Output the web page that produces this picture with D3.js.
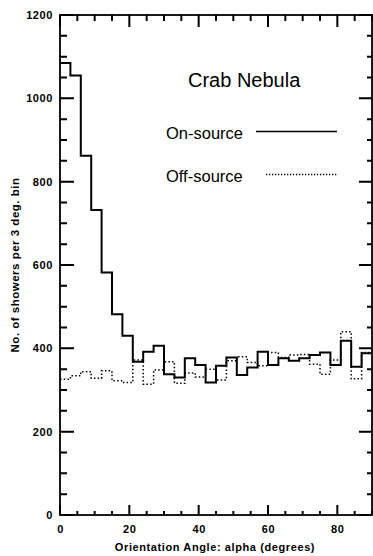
<!DOCTYPE html>
<html>
<head>
<meta charset="utf-8">
<script src="https://cdn.jsdelivr.net/npm/d3@7"></script>
<style>
  html, body { margin: 0; padding: 0; background: #fff; }
  svg { display: block; }
  .tick text { font-family: "Liberation Sans", Arial, sans-serif; font-weight: bold; font-size: 11px; letter-spacing: 0.6px; fill: #000; }
</style>
</head>
<body>
<svg id="chart" width="373" height="556"></svg>
<script>
// ---- data (3-degree bins of alpha, 0..90) ----
const binEdges = d3.range(0, 91, 3);
const onSource  = [1085, 1055, 862, 732, 582, 482, 430, 368, 392, 406,
                   338, 330, 376, 360, 318, 358, 378, 336, 354, 392,
                   360, 376, 370, 376, 384, 390, 360, 418, 356, 388];
const offSource = [326, 334, 344, 328, 346, 322, 318, 372, 314, 348,
                   368, 316, 341, 331, 350, 324, 370, 380, 366, 358,
                   390, 378, 384, 385, 362, 338, 372, 440, 327, 390];
const xMajorTicks = [0, 20, 40, 60, 80];
const yMajorTicks = [0, 200, 400, 600, 800, 1000, 1200];
const titleText = "Crab Nebula";
const seriesNames = ["On-source", "Off-source"];
const xTitle = "Orientation Angle: alpha (degrees)";
const yTitle = "No. of showers per 3 deg. bin";

// ---- layout ----
const L = 60, R = 372, T = 15, B = 515;
const svg = d3.select("#chart");
const x = d3.scaleLinear().domain([0, 90]).range([L, R]);
const y = d3.scaleLinear().domain([0, 1200]).range([B, T]);

const xMinor = d3.range(0, 91, 5).filter(v => v % 20 !== 0);
const yMinor = d3.range(0, 1201, 50).filter(v => v % 200 !== 0);

// tick labels via d3 axes
svg.append("g").attr("transform", `translate(${L},0)`)
  .call(d3.axisLeft(y).tickValues(yMajorTicks).tickSize(0).tickPadding(7).tickFormat(d3.format("d")))
  .call(g => g.select(".domain").remove());
svg.append("g").attr("transform", `translate(0,${B})`)
  .call(d3.axisBottom(x).tickValues(xMajorTicks).tickSize(0).tickPadding(10).tickFormat(d3.format("d")))
  .call(g => g.select(".domain").remove());

// inward tick marks, built from the scales
let tickD = "";
yMinor.forEach(v => { tickD += `M${L},${y(v)}H${L + 7}M${R},${y(v)}H${R - 5}`; });
yMajorTicks.forEach(v => { tickD += `M${L},${y(v)}H${L + 14}M${R},${y(v)}H${R - 13}`; });
xMinor.forEach(v => { tickD += `M${x(v)},${B}V${B - 4}M${x(v)},${T}V${T + 6}`; });
xMajorTicks.forEach(v => { tickD += `M${x(v)},${B}V${B - 10}M${x(v)},${T}V${T + 12}`; });
svg.append("path").attr("d", tickD).attr("fill", "none")
  .attr("stroke", "#000").attr("stroke-width", 2);

// frame
svg.append("rect").attr("x", L).attr("y", T).attr("width", R - L).attr("height", B - T)
  .attr("fill", "none").attr("stroke", "#000").attr("stroke-width", 1.8);

// histogram step lines
function stepPoints(vals) {
  const pts = [];
  vals.forEach((v, i) => {
    pts.push([x(binEdges[i]), y(v)]);
    pts.push([x(binEdges[i + 1]), y(v)]);
  });
  return pts;
}
const line = d3.line();
svg.append("path").attr("d", line(stepPoints(offSource)))
  .attr("fill", "none").attr("stroke", "#000").attr("stroke-width", 1.5)
  .attr("stroke-dasharray", "1.5,2.2");
svg.append("path").attr("d", line(stepPoints(onSource)))
  .attr("fill", "none").attr("stroke", "#000").attr("stroke-width", 2);

// title & legend
const font = "'Liberation Sans', Arial, Helvetica, sans-serif";
svg.append("text").attr("x", 188).attr("y", 87).attr("font-family", font)
  .attr("font-size", 20).attr("fill", "#000").text(titleText);
svg.append("text").attr("x", 166).attr("y", 139).attr("font-family", font)
  .attr("font-size", 16.5).attr("fill", "#000").text(seriesNames[0]);
svg.append("text").attr("x", 166).attr("y", 181.5).attr("font-family", font)
  .attr("font-size", 16.5).attr("fill", "#000").text(seriesNames[1]);
svg.append("line").attr("x1", 256).attr("x2", 337).attr("y1", 131.5).attr("y2", 131.5)
  .attr("stroke", "#000").attr("stroke-width", 1.6);
svg.append("line").attr("x1", 266).attr("x2", 337).attr("y1", 174.5).attr("y2", 174.5)
  .attr("stroke", "#000").attr("stroke-width", 1.3).attr("stroke-dasharray", "1.3,1.7");

// axis titles
svg.append("text").attr("x", 215).attr("y", 551).attr("text-anchor", "middle")
  .attr("font-family", font).attr("font-weight", "bold").attr("font-size", 11)
  .attr("letter-spacing", 0.6).attr("fill", "#000").text(xTitle);
svg.append("text").attr("transform", "translate(19,265) rotate(-90)").attr("text-anchor", "middle")
  .attr("font-family", font).attr("font-weight", "bold").attr("font-size", 11.5)
  .attr("letter-spacing", 0.5).attr("fill", "#000").text(yTitle);
</script>
</body>
</html>
